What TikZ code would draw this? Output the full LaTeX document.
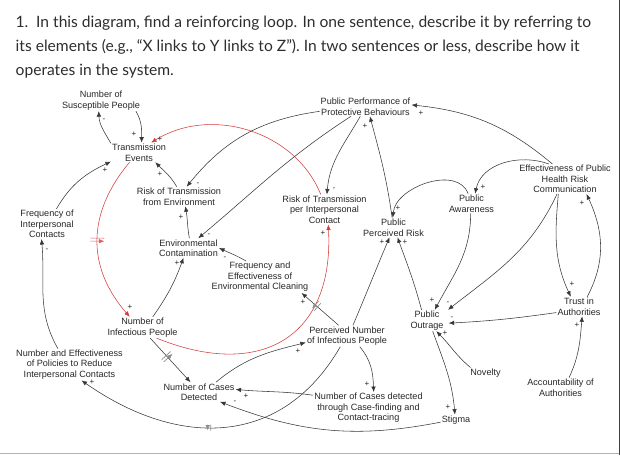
\documentclass[tikz,border=0pt]{standalone}
\usepackage{fontspec}
\setmainfont{Liberation Sans}
\newfontfamily\headfont{Lato}
\usetikzlibrary{arrows.meta,decorations.markings}
\definecolor{ink}{RGB}{55,55,55}
\definecolor{loopred}{RGB}{214,58,58}
\definecolor{qgray}{RGB}{45,45,45}

\begin{document}
\begin{tikzpicture}
  [x=1pt,y=1pt,
   every node/.style={font=\fontsize{9.1}{10.5}\selectfont,align=center,inner sep=1pt,text=black!85},
   link/.style={draw=ink,line width=.55pt,-{Latex[length=5.5pt,width=4.5pt]}},
   redlink/.style={draw=loopred,line width=.55pt,-{Latex[length=5.5pt,width=4.5pt]}},
   sign/.style={font=\fontsize{8}{8}\selectfont,inner sep=0pt,text height=4.7pt,text depth=0pt},
   question/.style={font=\headfont\fontsize{15.6}{15.6}\selectfont,text=qgray,anchor=base west,inner sep=0pt,align=left},
   delay/.style 2 args={postaction={decorate,decoration={markings,mark=at position #1 with
     {\draw[black!45,line width=.7pt] (-1.5,-#2) -- (-1.5,#2) (1.5,-#2) -- (1.5,#2);}}}},
   reddelay/.style 2 args={postaction={decorate,decoration={markings,mark=at position #1 with
     {\draw[loopred!80,line width=.6pt] (-1.5,-#2) -- (-1.5,#2) (1.5,-#2) -- (1.5,#2);}}}}]
  \useasboundingbox (0,0) rectangle (620,-455);
  \draw[black!75,line width=.8pt] (619.4,0) -- (619.4,-455);
  \draw[black!30,line width=.8pt] (0,-453.5) -- (619,-453.5);

  % question
  \node[question] (q1) at (15.5,-27) {1.\hspace{.5em}In this diagram, find a reinforcing loop. In one sentence, describe it by referring to};
  \node[question] (q2) at (15.5,-51) {its elements (e.g., “X links to Y links to Z”). In two sentences or less, describe how it};
  \node[question] (q3) at (15.5,-75) {operates in the system.};

  % variables
  \node (sus)   at (101,-100.5)   {Number of\\Susceptible People};
  \node (perf)  at (365.5,-106.5) {Public Performance of\\Protective Behaviours};
  \node (trans) at (139,-152.5)   {Transmission\\Events};
  \node (renv)  at (179,-196.5)   {Risk of Transmission\\from Environment};
  \node (rper)  at (324.5,-209.5) {Risk of Transmission\\per Interpersonal\\Contact};
  \node (prisk) at (393.5,-227.5) {Public\\Perceived Risk};
  \node (aware) at (471.5,-203.5) {Public\\Awareness};
  \node (eff)   at (565,-179)     {Effectiveness of Public\\Health Risk\\Communication};
  \node (freq)  at (47,-224)      {Frequency of\\Interpersonal\\Contacts};
  \node (envc)  at (188.5,-248)   {Environmental\\Contamination};
  \node (clean) at (260,-277)     {Frequency and\\Effectiveness of\\Environmental Cleaning};
  \node (inf)   at (142.5,-327.5) {Number of\\Infectious People};
  \node (pol)   at (69.5,-364.5)  {Number and Effectiveness\\of Policies to Reduce\\Interpersonal Contacts};
  \node (cases) at (199,-392)     {Number of Cases\\Detected};
  \node (pnum)  at (347,-336)     {Perceived Number\\of Infectious People};
  \node[inner xsep=5pt] (outr) at (427,-320.5) {Public\\Outrage};
  \node (trust) at (579,-306.5)   {Trust in\\Authorities};
  \node (nov)   at (485.5,-373)   {Novelty};
  \node (acc)   at (560.5,-387.5) {Accountability of\\Authorities};
  \node (cft)   at (368.5,-408)   {Number of Cases detected\\through Case-finding and\\Contact-tracing};
  \node (stig)  at (456,-420)     {Stigma};

  % reinforcing loop
  \draw[redlink] (rper.104) to[out=112,in=32] (trans.39);
  \draw[redlink,reddelay={.5}{7}] (trans.-134) to[out=230,in=131,looseness=1.1] (inf.140);
  \draw[redlink] (inf.-37) to[out=-22,in=-87,looseness=1.4] (rper.-76);

  % links
  \foreach \from/\to/\o/\i in {sus.-17/trans.75/-60/90, trans.162/sus.-102/120/-88,
      renv.103/trans.-31/120/-45, envc.85/renv.-57/100/-80,
      perf.186/renv.52/188/51, perf.214/envc.45/213/40, perf.242/rper.81/240/85,
      prisk.98/perf.-66/98/-75, aware.109/prisk.94/110/85,
      eff.130/perf.2/140/-6, eff.137/aware.70/160/78,
      aware.-95/outr.54/-90/62, eff.-118/outr.27/245/38, eff.-114/trust.130/265/115,
      trust.50/eff.-35/62/-65, trust.195/outr.-7/188/3, acc.49/trust.-72/65/-95,
      nov.160/outr.-49/140/-45, outr.-62/stig.101/-70/95,
      stig.188/cases.-25/191/-21, cft.167/cases.4/172/-5,
      pnum.-40/cft.72/-50/92, cases.30/pnum.189/40/194,
      inf.46/envc.-117/55/-110, clean.131/envc.0/150/-25,
      pnum.61/prisk.-112/67/-113, outr.117/prisk.-68/105/-70,
      freq.58/trans.198/60/-155, pol.126/freq.-110/120/-85}
    \draw[link] (\from) to[out=\o,in=\i] (\to);

  % delayed links
  \draw[link,delay={.54}{3}] (pnum.-122) to[out=240,in=-35,looseness=1.15] (pol.-53);
  \draw[link,delay={.42}{6}] (inf.-54) -- (cases.131);
  \draw[link,delay={.6}{5}] (pnum.128) -- (clean.-21);

  % polarities
  \foreach \x/\y/\s [count=\k] in {134/-134/+, 104/-119/-, 160/-139/+, 130/-307/+,
      323/-233/+, 160/-174/+, 181/-217/+, 198/-183.5/-, 209/-234.5/-, 334/-188/-,
      365/-126/+, 398/-208/+, 421/-113/+, 483/-187/+, 432/-300/+, 448/-302/-,
      572/-284/+, 582/-203/+, 452/-317/-, 577/-325/+, 445/-333/+, 448/-407/+,
      235/-401/-, 246/-396/+, 367/-384/+, 298/-351/+, 92/-382/+, 177/-263/+,
      225/-257/-, 303/-302/+, 382/-242/+, 405/-242/+, 105/-170/+, 47/-249/-}
    \node[sign] (s\k) at (\x,\y) {\s};
\end{tikzpicture}
\end{document}
